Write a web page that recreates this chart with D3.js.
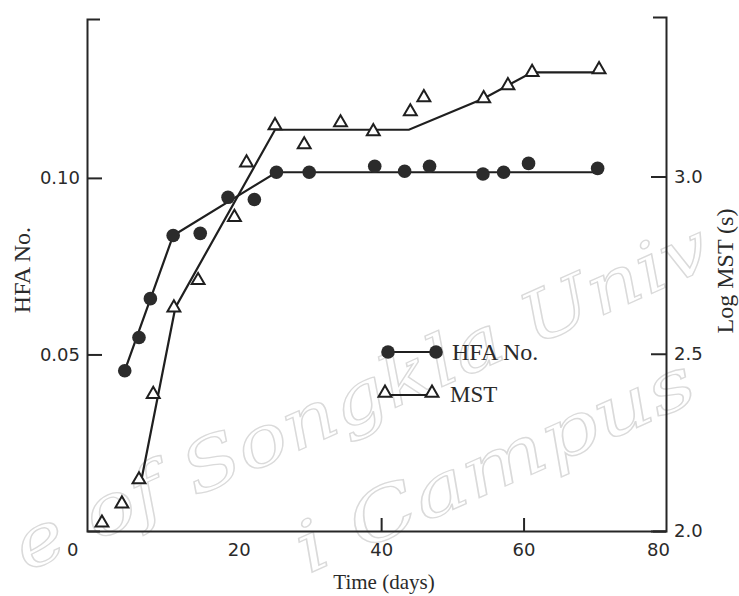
<!DOCTYPE html>
<html>
<head>
<meta charset="utf-8">
<script src="https://cdn.jsdelivr.net/npm/d3@7"></script>
<style>
  body { margin: 0; background: #fff; }
  svg text { fill: #2a2a2a; }
  .tick text { font-family: "DejaVu Sans", sans-serif; font-size: 18px; }
  .domain, .tick line { stroke: #262626; stroke-width: 2; }
</style>
</head>
<body>
<div class="chart"></div>
<script>
var hfaDays = [4.0, 6.0, 7.6, 10.8, 14.6, 18.5, 22.2, 25.3, 29.9, 39.1, 43.3, 46.8, 54.3, 57.2, 60.7, 70.4]
var hfaVals = [0.0454, 0.0548, 0.0658, 0.0837, 0.0843, 0.0945, 0.0939, 0.1016, 0.1016, 0.1033, 0.1019, 0.1033, 0.1011, 0.1016, 0.1041, 0.1027]

var mstDays = [0.8, 3.6, 6.0, 8.0, 10.9, 14.3, 19.4, 21.1, 25.1, 29.2, 34.3, 38.9, 44.1, 46.0, 54.4, 57.8, 61.2, 70.6]
var mstVals = [2.023, 2.077, 2.145, 2.386, 2.630, 2.707, 2.885, 3.039, 3.144, 3.090, 3.152, 3.127, 3.183, 3.223, 3.220, 3.257, 3.294, 3.302]

// fitted broken lines drawn in the figure
var hfaFitDays = [4.0, 10.8, 25.3, 70.4]
var hfaFitVals = [0.0454, 0.0837, 0.1016, 0.1016]
var mstFitDays = [6.4, 11.1, 25.1, 43.9, 54.4, 61.2, 70.6]
var mstFitVals = [2.150, 2.630, 3.132, 3.132, 3.220, 3.294, 3.294]

var xTicks = [0, 20, 40, 60, 80]
var hfaTicks = [0.05, 0.10]
var mstTicks = [2.0, 2.5, 3.0]

var W = 739, H = 596

var svg = d3.select('.chart').append('svg')
    .attr('width', W)
    .attr('height', H)
    .attr('viewBox', [0, 0, W, H])

// faint watermark of the scan (only the visible part)
var wm = svg.append('g')
    .style('font-family', '"DejaVu Serif", serif')
    .style('font-style', 'italic')
    .style('font-size', '70px')
    .attr('stroke', '#dadada')
    .attr('stroke-width', 1.3)
wm.append('text')
    .attr('transform', 'translate(26,572) rotate(-24)')
    .attr('textLength', 755)
    .attr('lengthAdjust', 'spacingAndGlyphs')
    .style('fill', 'none')
    .text('e of Songkla Univ')
wm.append('text')
    .attr('transform', 'translate(308,574) rotate(-24)')
    .attr('textLength', 430)
    .attr('lengthAdjust', 'spacingAndGlyphs')
    .style('fill', 'none')
    .text('i Campus')

var x = d3.scaleLinear().domain([-1.3, 80]).range([87, 666])
var yL = d3.scaleLinear().domain([0, 0.145]).range([531, 19])
var yR = d3.scaleLinear().domain([2.0, 3.45]).range([531, 17])

// axes (ticks point inwards)
var gx = svg.append('g')
    .attr('transform', 'translate(0,531)')
    .call(d3.axisBottom(x).tickValues(xTicks).tickFormat(d3.format('d'))
        .tickSizeInner(-13).tickSizeOuter(0).tickPadding(12))
gx.selectAll('.tick').filter(d => d != 40 && d != 60).select('line').remove()
gx.selectAll('.tick text').attr('dx', d => d == 0 ? -24 : (d == 80 ? -8 : 0))

svg.append('g')
    .attr('transform', 'translate(87,0)')
    .call(d3.axisLeft(yL).tickValues(hfaTicks).tickFormat(d3.format('.2f'))
        .tickSizeInner(-15).tickSizeOuter(-13).tickPadding(7))

svg.append('g')
    .attr('transform', 'translate(666,0)')
    .call(d3.axisRight(yR).tickValues(mstTicks).tickFormat(d3.format('.1f'))
        .tickSizeInner(-15).tickSizeOuter(-13).tickPadding(8))

svg.selectAll('.tick text').style('fill', '#2a2a2a')

// fitted lines
var hfaLine = d3.line().x(d => x(d[0])).y(d => yL(d[1]))
var mstLine = d3.line().x(d => x(d[0])).y(d => yR(d[1]))

svg.append('path')
    .datum(d3.zip(hfaFitDays, hfaFitVals))
    .attr('d', hfaLine)
    .attr('fill', 'none').attr('stroke', '#1f1f1f').attr('stroke-width', 2.2)

svg.append('path')
    .datum(d3.zip(mstFitDays, mstFitVals))
    .attr('d', mstLine)
    .attr('fill', 'none').attr('stroke', '#1f1f1f').attr('stroke-width', 2.2)

var tri = d3.symbol().type(d3.symbolTriangle).size(72)

svg.selectAll('.mst')
    .data(d3.zip(mstDays, mstVals))
    .enter()
    .append('path')
    .attr('class', 'mst')
    .attr('d', tri)
    .attr('transform', d => 'translate(' + x(d[0]) + ',' + yR(d[1]) + ')')
    .attr('fill', '#fff').attr('stroke', '#1f1f1f').attr('stroke-width', 2)

svg.selectAll('.hfa')
    .data(d3.zip(hfaDays, hfaVals))
    .enter()
    .append('circle')
    .attr('class', 'hfa')
    .attr('cx', d => x(d[0]))
    .attr('cy', d => yL(d[1]))
    .attr('r', 6.8)
    .attr('fill', '#2b2b2b')

// legend
var leg = svg.append('g')
leg.append('line').attr('x1', 388).attr('x2', 436).attr('y1', 352).attr('y2', 352)
    .attr('stroke', '#1f1f1f').attr('stroke-width', 2.2)
leg.selectAll('circle').data([388, 436]).enter().append('circle')
    .attr('cx', d => d).attr('cy', 352).attr('r', 6.8).attr('fill', '#2b2b2b')
leg.append('line').attr('x1', 385).attr('x2', 432).attr('y1', 395).attr('y2', 395)
    .attr('stroke', '#1f1f1f').attr('stroke-width', 2.2)
leg.selectAll('.ltri').data([385, 432]).enter().append('path')
    .attr('class', 'ltri')
    .attr('d', tri)
    .attr('transform', d => 'translate(' + d + ',393)')
    .attr('fill', '#fff').attr('stroke', '#1f1f1f').attr('stroke-width', 2)
leg.append('text').attr('x', 452).attr('y', 360).text('HFA No.')
    .style('font-family', '"Liberation Serif", serif').style('font-size', '24px')
leg.append('text').attr('x', 450).attr('y', 402).text('MST')
    .style('font-family', '"Liberation Serif", serif').style('font-size', '23px')

// axis titles
svg.append('text')
    .attr('transform', 'translate(30,270) rotate(-90)')
    .attr('text-anchor', 'middle')
    .style('font-family', '"Liberation Serif", serif').style('font-size', '24px')
    .text('HFA No.')

svg.append('text')
    .attr('transform', 'translate(733,271) rotate(-90)')
    .attr('text-anchor', 'middle')
    .style('font-family', '"Liberation Serif", serif').style('font-size', '24px')
    .text('Log MST (s)')

svg.append('text')
    .attr('x', 384)
    .attr('y', 589)
    .attr('text-anchor', 'middle')
    .style('font-family', '"Liberation Serif", serif').style('font-size', '21px')
    .text('Time (days)')
</script>
</body>
</html>
